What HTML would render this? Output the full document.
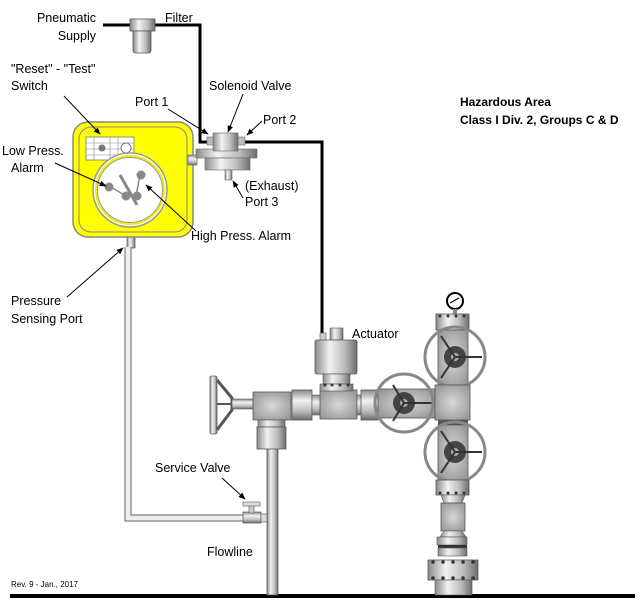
<!DOCTYPE html>
<html><head><meta charset="utf-8"><style>
html,body{margin:0;padding:0;background:#fff;}
svg{display:block;}
text{font-family:"Liberation Sans",Arial,sans-serif;font-size:12.5px;fill:#000;}
</style></head><body>
<svg width="643" height="605" viewBox="0 0 643 605" xmlns="http://www.w3.org/2000/svg">
<defs>
<linearGradient id="cy" x1="0" x2="1" y1="0" y2="0">
<stop offset="0" stop-color="#8a8a8a"/><stop offset="0.35" stop-color="#f2f2f2"/><stop offset="0.7" stop-color="#bdbdbd"/><stop offset="1" stop-color="#6e6e6e"/></linearGradient>
<linearGradient id="cyv" x1="0" x2="0" y1="0" y2="1">
<stop offset="0" stop-color="#8a8a8a"/><stop offset="0.35" stop-color="#f2f2f2"/><stop offset="0.7" stop-color="#bdbdbd"/><stop offset="1" stop-color="#6e6e6e"/></linearGradient>
<radialGradient id="blk" cx="0.5" cy="0.5" r="0.6"><stop offset="0" stop-color="#d8d8d8"/><stop offset="1" stop-color="#9a9a9a"/></radialGradient>
<marker id="ar" viewBox="0 0 10 10" refX="9" refY="5" markerWidth="7" markerHeight="7" orient="auto"><path d="M0,1 L10,5 L0,9 z" fill="#000"/></marker>
</defs>

<rect x="10" y="594" width="625" height="4" fill="#000"/>
<text x="11" y="587" style="font-size:8px">Rev. 9 - Jan., 2017</text>

<polyline points="103,25 200,25 200,142 322,142 322,333" fill="none" stroke="#000" stroke-width="3"/>

<rect x="130" y="19" width="25" height="12" fill="url(#cy)" stroke="#555" stroke-width="0.8"/>
<path d="M133,31 h18 v19 q0,3 -3,3 h-12 q-3,0 -3,-3 z" fill="url(#cy)" stroke="#555" stroke-width="0.8"/>

<rect x="127" y="237" width="8" height="11" fill="url(#cy)" stroke="#555" stroke-width="0.7"/>
<path d="M128,247 V518 H245" fill="none" stroke="#666" stroke-width="7"/>
<path d="M128,247 V518 H245" fill="none" stroke="#eee" stroke-width="5"/>

<rect x="73" y="122" width="120" height="115" rx="15" fill="#ffff00" stroke="#888" stroke-width="1.5"/>
<rect x="79" y="127" width="108" height="105" rx="12" fill="none" stroke="#888" stroke-width="1"/>
<rect x="86" y="137" width="48" height="23" fill="#fff" stroke="#777" stroke-width="0.8"/>
<g fill="none" stroke="#888" stroke-width="0.6">
<line x1="86" y1="143" x2="134" y2="143"/><line x1="86" y1="149" x2="134" y2="149"/><line x1="86" y1="155" x2="134" y2="155"/>
<line x1="94" y1="137" x2="94" y2="160"/><line x1="110" y1="137" x2="110" y2="160"/><line x1="118" y1="137" x2="118" y2="160"/></g>
<circle cx="102" cy="148" r="3.5" fill="#777"/>
<circle cx="126" cy="148" r="5" fill="#fff" stroke="#777"/>
<circle cx="130" cy="190" r="37" fill="#fff" stroke="#999" stroke-width="1.5"/>
<circle cx="130" cy="190" r="34" fill="none" stroke="#ee0" stroke-width="2"/>
<circle cx="130" cy="190" r="32.5" fill="#fff" stroke="#999" stroke-width="1"/>
<g fill="#888" stroke="#888">
<line x1="120" y1="175" x2="137" y2="205" stroke-width="3"/>
<line x1="111" y1="187" x2="126" y2="196" stroke-width="1.5"/>
<line x1="140" y1="175" x2="136" y2="196" stroke-width="1.5"/>
<circle cx="109" cy="187" r="4"/><circle cx="141" cy="175" r="4"/><circle cx="126" cy="196" r="4"/><circle cx="137" cy="196" r="4"/></g>

<rect x="188" y="155" width="9" height="10" fill="url(#cyv)" stroke="#666" stroke-width="0.6"/>
<rect x="196" y="149" width="61" height="9" fill="url(#cy)" stroke="#666" stroke-width="0.6"/>
<rect x="205" y="158" width="45" height="12" fill="url(#cy)" stroke="#666" stroke-width="0.6"/>
<rect x="225" y="170" width="7" height="10" fill="url(#cy)" stroke="#666" stroke-width="0.6"/>
<rect x="207" y="137" width="7" height="8" fill="#bbb" stroke="#666" stroke-width="0.6"/>
<rect x="237" y="137" width="8" height="8" fill="#bbb" stroke="#666" stroke-width="0.6"/>
<rect x="213" y="133" width="25" height="18" fill="url(#cy)" stroke="#666" stroke-width="0.6"/>

<rect x="267" y="440" width="11" height="155" fill="url(#cy)" stroke="#555" stroke-width="0.8"/>
<rect x="243" y="512" width="18" height="11" fill="url(#cyv)" stroke="#555" stroke-width="0.7"/>
<rect x="261" y="514" width="6" height="8" fill="#ddd" stroke="#555" stroke-width="0.6"/>
<rect x="249" y="505" width="5" height="8" fill="#ccc" stroke="#555" stroke-width="0.6"/>
<rect x="243" y="502" width="17" height="4" fill="#ddd" stroke="#555" stroke-width="0.6"/>

<rect x="210" y="376" width="7" height="58" rx="2" fill="url(#cy)" stroke="#555" stroke-width="0.8"/>
<path d="M217,380 L232,398 L232,410 L217,430" fill="none" stroke="#555" stroke-width="3"/>
<line x1="217" y1="404" x2="232" y2="404" stroke="#555" stroke-width="2"/>
<rect x="232" y="399" width="21" height="10" fill="url(#cyv)" stroke="#555" stroke-width="0.6"/>
<rect x="253" y="392" width="38" height="28" fill="url(#blk)" stroke="#555" stroke-width="0.8"/>
<rect x="258" y="420" width="27" height="7" fill="url(#cy)" stroke="#555" stroke-width="0.6"/>
<rect x="257" y="427" width="29" height="22" fill="url(#cy)" stroke="#555" stroke-width="0.8"/>
<rect x="292" y="390" width="20" height="30" fill="url(#cyv)" stroke="#555" stroke-width="0.8"/>
<rect x="312" y="395" width="10" height="20" fill="url(#cyv)" stroke="#555" stroke-width="0.6"/>
<rect x="320" y="390" width="37" height="29" fill="url(#blk)" stroke="#555" stroke-width="0.8"/>
<rect x="357" y="395" width="5" height="20" fill="url(#cyv)" stroke="#555" stroke-width="0.6"/>
<rect x="361" y="390" width="17" height="30" fill="url(#cyv)" stroke="#555" stroke-width="0.8"/>
<rect x="378" y="389" width="57" height="29" fill="url(#blk)" stroke="#555" stroke-width="0.8"/>
<circle cx="404" cy="403" r="11" fill="#444"/><circle cx="404" cy="403" r="4" fill="#aaa"/>
<line x1="404" y1="403" x2="432" y2="403" stroke="#333" stroke-width="2"/>
<line x1="393" y1="385" x2="404" y2="403" stroke="#333" stroke-width="2"/>
<line x1="393" y1="421" x2="404" y2="403" stroke="#333" stroke-width="2"/>
<circle cx="404" cy="403" r="29" fill="none" stroke="#888" stroke-width="3"/>

<rect x="330" y="328" width="13" height="12" fill="url(#cy)" stroke="#555" stroke-width="0.6"/>
<rect x="320" y="333" width="6" height="7" fill="#ccc" stroke="#555" stroke-width="0.6"/>
<rect x="315" y="340" width="42" height="34" rx="2" fill="url(#cy)" stroke="#555" stroke-width="0.8"/>
<rect x="323" y="374" width="27" height="10" fill="url(#cy)" stroke="#555" stroke-width="0.6"/>
<rect x="320" y="384" width="33" height="7" fill="url(#cy)" stroke="#555" stroke-width="0.6"/>
<g fill="#333"><circle cx="325" cy="385" r="1.5"/><circle cx="332" cy="385" r="1.5"/><circle cx="340" cy="385" r="1.5"/><circle cx="348" cy="385" r="1.5"/></g>

<circle cx="455" cy="301" r="8" fill="#fff" stroke="#000" stroke-width="2"/>
<line x1="450" y1="303" x2="459" y2="298" stroke="#000" stroke-width="1.2"/>
<rect x="453" y="309" width="4" height="5" fill="#888"/>
<rect x="436" y="314" width="33" height="16" fill="url(#cy)" stroke="#555" stroke-width="0.8"/>
<g fill="#333"><circle cx="440" cy="316" r="1.5"/><circle cx="448" cy="316" r="1.5"/><circle cx="456" cy="316" r="1.5"/><circle cx="464" cy="316" r="1.5"/></g>
<rect x="438" y="330" width="30" height="55" fill="url(#blk)" stroke="#555" stroke-width="0.8"/>
<circle cx="455" cy="357" r="11" fill="#444"/><circle cx="455" cy="357" r="4" fill="#aaa"/>
<line x1="455" y1="357" x2="482" y2="357" stroke="#333" stroke-width="2"/>
<line x1="441" y1="336" x2="455" y2="357" stroke="#333" stroke-width="2"/>
<line x1="441" y1="378" x2="455" y2="357" stroke="#333" stroke-width="2"/>
<circle cx="455" cy="357" r="30" fill="none" stroke="#888" stroke-width="3"/>
<rect x="435" y="385" width="35" height="35" fill="url(#blk)" stroke="#555" stroke-width="0.8"/>
<rect x="438" y="420" width="30" height="5" fill="#555"/>
<rect x="438" y="425" width="30" height="55" fill="url(#blk)" stroke="#555" stroke-width="0.8"/>
<circle cx="455" cy="452" r="11" fill="#444"/><circle cx="455" cy="452" r="4" fill="#aaa"/>
<line x1="455" y1="452" x2="482" y2="452" stroke="#333" stroke-width="2"/>
<line x1="441" y1="431" x2="455" y2="452" stroke="#333" stroke-width="2"/>
<line x1="441" y1="473" x2="455" y2="452" stroke="#333" stroke-width="2"/>
<circle cx="455" cy="452" r="30" fill="none" stroke="#888" stroke-width="3"/>
<rect x="436" y="480" width="33" height="15" fill="url(#cy)" stroke="#555" stroke-width="0.8"/>
<g fill="#333"><circle cx="440" cy="493" r="1.5"/><circle cx="448" cy="493" r="1.5"/><circle cx="456" cy="493" r="1.5"/><circle cx="464" cy="493" r="1.5"/></g>
<path d="M441,495 L465,495 L462,503 L444,503 z" fill="url(#cy)" stroke="#555" stroke-width="0.6"/>
<rect x="441" y="503" width="24" height="28" fill="url(#blk)" stroke="#555" stroke-width="0.8"/>
<path d="M444,531 L462,531 L466,537 L440,537 z" fill="url(#cy)" stroke="#555" stroke-width="0.6"/>
<rect x="437" y="537" width="30" height="8" fill="url(#cy)" stroke="#555" stroke-width="0.6"/>
<rect x="438" y="545" width="29" height="3" fill="#333"/>
<rect x="438" y="548" width="29" height="8" fill="url(#cy)" stroke="#555" stroke-width="0.6"/>
<rect x="428" y="560" width="50" height="20" fill="url(#cy)" stroke="#555" stroke-width="0.8"/>
<g fill="#333"><circle cx="433" cy="562" r="1.8"/><circle cx="443" cy="562" r="1.8"/><circle cx="453" cy="562" r="1.8"/><circle cx="463" cy="562" r="1.8"/><circle cx="473" cy="562" r="1.8"/>
<circle cx="433" cy="578" r="1.8"/><circle cx="443" cy="578" r="1.8"/><circle cx="453" cy="578" r="1.8"/><circle cx="463" cy="578" r="1.8"/><circle cx="473" cy="578" r="1.8"/></g>
<rect x="435" y="580" width="37" height="15" fill="url(#cy)" stroke="#555" stroke-width="0.6"/>

<text x="96" y="22" text-anchor="end">Pneumatic</text>
<text x="96" y="40" text-anchor="end">Supply</text>
<text x="165" y="22">Filter</text>
<text x="11" y="73">"Reset" - "Test"</text>
<text x="11" y="90">Switch</text>
<text x="209" y="90">Solenoid Valve</text>
<text x="135" y="106">Port 1</text>
<text x="263" y="124">Port 2</text>
<text x="2" y="155">Low Press.</text>
<text x="11" y="172">Alarm</text>
<text x="245" y="190">(Exhaust)</text>
<text x="245" y="206">Port 3</text>
<text x="191" y="240">High Press. Alarm</text>
<text x="11" y="305">Pressure</text>
<text x="11" y="323">Sensing Port</text>
<text x="352" y="338">Actuator</text>
<text x="155" y="472">Service Valve</text>
<text x="207" y="556">Flowline</text>
<text x="460" y="106" style="font-weight:bold;font-size:12px">Hazardous Area</text>
<text x="460" y="124" style="font-weight:bold;font-size:12px">Class I Div. 2, Groups C &amp; D</text>

<g stroke="#000" stroke-width="1" fill="none" marker-end="url(#ar)">
<line x1="64" y1="96" x2="100" y2="134"/>
<line x1="168" y1="109" x2="208" y2="134"/>
<line x1="243" y1="94" x2="228" y2="132"/>
<line x1="262" y1="121" x2="247" y2="135"/>
<line x1="55" y1="163" x2="106" y2="186"/>
<line x1="243" y1="198" x2="233" y2="181"/>
<line x1="196" y1="231" x2="146" y2="185"/>
<line x1="67" y1="297" x2="123" y2="248"/>
<line x1="222" y1="478" x2="245" y2="499"/>
</g>
</svg>
</body></html>
